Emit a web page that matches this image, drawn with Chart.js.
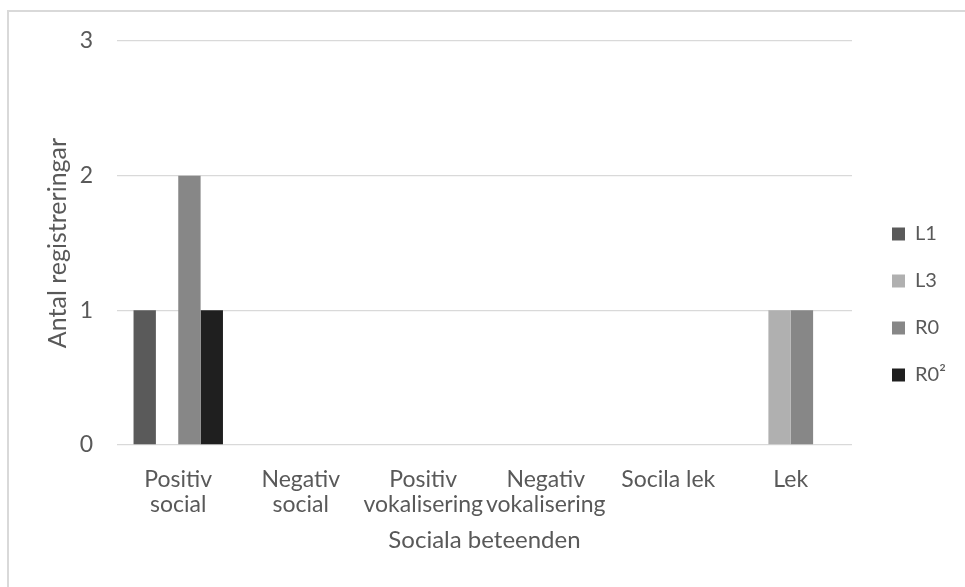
<!DOCTYPE html>
<html>
<head>
<meta charset="utf-8">
<script src="https://cdn.jsdelivr.net/npm/chart.js@4/dist/chart.umd.min.js"></script>
<style>
  html, body { margin: 0; padding: 0; background: #ffffff; overflow: hidden; }
  #wrap { position: relative; width: 965px; height: 587px; }
  #frame { position: absolute; left: 7px; top: 10px; width: 1000px; height: 1000px;
           border-left: 2px solid #d9d9d9; border-top: 2px solid #d9d9d9; pointer-events: none; }
  canvas { position: absolute; left: 0; top: 0; }
</style>
</head>
<body>
<div id="wrap">
  <canvas id="c" width="965" height="587"></canvas>
  <div id="frame"></div>
</div>
<script>
const categories = [["Positiv", "social"], ["Negativ", "social"], ["Positiv", "vokalisering"], ["Negativ", "vokalisering"], "Socila lek", "Lek"];
const seriesNames = ["L1", "L3", "R0", "R0²"];
const L1 = [1, 0, 0, 0, 0, 0];
const L3 = [0, 0, 0, 0, 0, 1];
const R0 = [2, 0, 0, 0, 0, 1];
const R0sq = [1, 0, 0, 0, 0, 0];
const yTicks = [0, 1, 2, 3];
const yTitle = "Antal registreringar";
const xTitle = "Sociala beteenden";

const colors = ["#5a5a5a", "#b0b0b0", "#878787", "#1f1f1f"];
const seriesValues = [L1, L3, R0, R0sq];
const textColor = "#595959";
const FONT = "Lato, 'Open Sans', sans-serif";

const legendShift = {
  id: 'legendShift',
  afterLayout(chart) {
    const lg = chart.legend;
    if (lg) {
      const w = lg.right - lg.left;
      lg.left = chart.chartArea.right + 13;
      lg.right = lg.left + w;
    }
  }
};

// Vertical axis title, centred on the y scale's extent
const yAxisTitle = {
  id: 'yAxisTitle',
  afterDraw(chart) {
    const ys = chart.scales.y;
    const ctx = chart.ctx;
    ctx.save();
    ctx.translate(57.5, (ys.top + ys.bottom) / 2);
    ctx.rotate(-Math.PI / 2);
    ctx.font = "25px " + FONT;
    ctx.fillStyle = textColor;
    ctx.textAlign = 'center';
    ctx.textBaseline = 'middle';
    ctx.fillText(yTitle, 0, 0);
    ctx.restore();
  }
};

new Chart(document.getElementById('c'), {
  type: 'bar',
  data: {
    labels: categories,
    datasets: seriesNames.map((name, i) => ({
      label: name,
      data: seriesValues[i],
      backgroundColor: colors[i],
      borderWidth: 0,
      categoryPercentage: 0.73,
      barPercentage: 1.0
    }))
  },
  options: {
    responsive: false,
    devicePixelRatio: 1,
    animation: false,
    layout: { padding: { left: 0, right: 28, top: 41, bottom: 19 } },
    plugins: {
      legend: {
        position: 'right',
        align: 'center',
        maxWidth: 85,
        labels: {
          boxWidth: 13,
          boxHeight: 13,
          padding: 27,
          color: textColor,
          font: { family: FONT, size: 20 }
        }
      },
      tooltip: { enabled: false }
    },
    scales: {
      x: {
        grid: { display: false, drawTicks: false },
        border: { display: false },
        ticks: {
          color: textColor,
          padding: 22,
          maxRotation: 0,
          autoSkip: false,
          font: { family: FONT, size: 23, lineHeight: 1.087 }
        },
        title: {
          display: true,
          text: xTitle,
          color: textColor,
          font: { family: FONT, size: 24 },
          padding: { top: 0, bottom: 13 }
        },
        afterFit(scale) { scale.height = 123; }
      },
      y: {
        min: 0,
        max: 3,
        afterBuildTicks(scale) { scale.ticks = yTicks.map(v => ({ value: v })); },
        grid: { color: '#d9d9d9', lineWidth: 1.3, drawTicks: false },
        border: { display: false },
        ticks: {
          color: textColor,
          padding: 24,
          font: { family: FONT, size: 23 }
        },
        title: { display: false },
        afterFit(scale) { scale.width = 117; }
      }
    }
  },
  plugins: [legendShift, yAxisTitle]
});
</script>
</body>
</html>
